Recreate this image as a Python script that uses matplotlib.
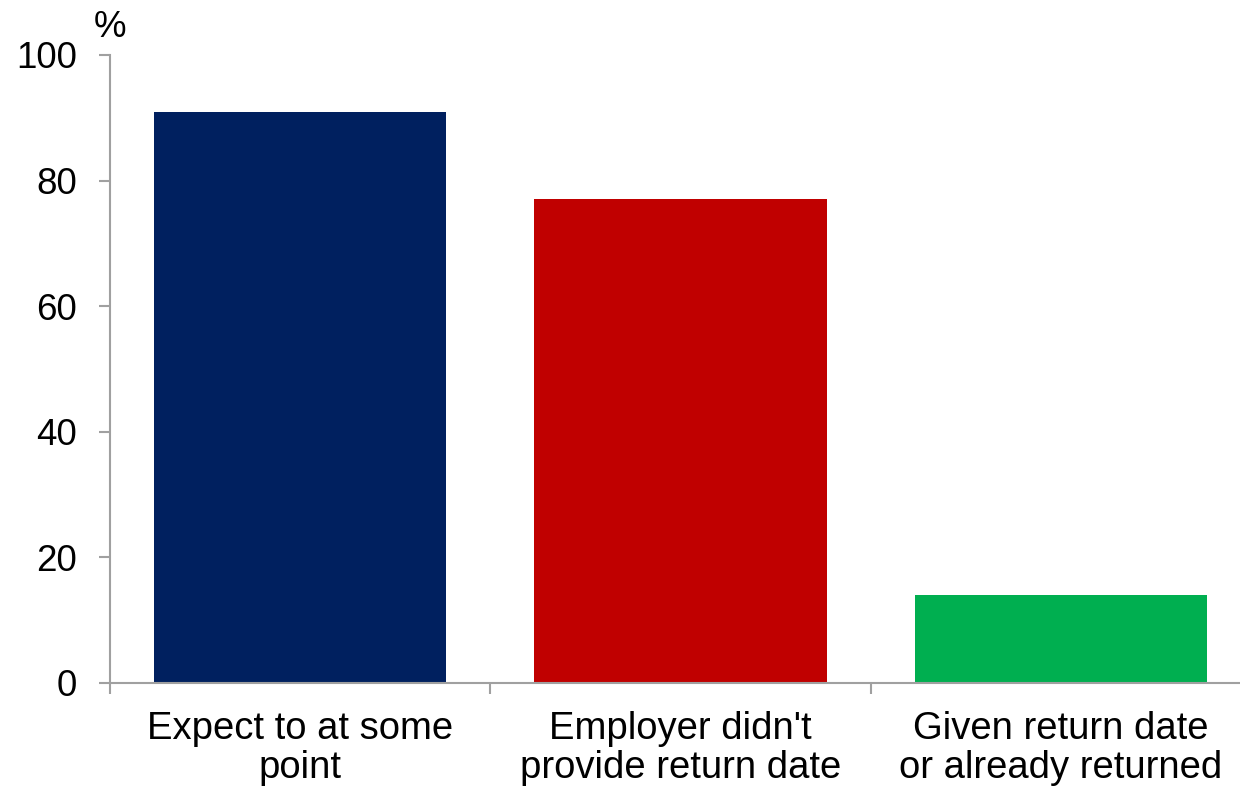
import matplotlib
matplotlib.use("Agg")
import matplotlib.pyplot as plt
import numpy as np

# Share of respondents, %
categories = ["Expect to at some\npoint",
              "Employer didn't\nprovide return date",
              "Given return date\nor already returned"]
values = [91, 77, 14]
bar_colors = ["#00205F", "#C00000", "#00AF50"]
yticks = [0, 20, 40, 60, 80, 100]

plt.rcParams["font.family"] = ["Liberation Sans", "DejaVu Sans"]

W, H = 1240, 792
fig = plt.figure(figsize=(W / 100, H / 100), dpi=100)
# axis runs off the right edge of the canvas
ax = fig.add_axes([110 / W, (H - 683) / H, 1141 / W, 628 / H])

x = np.arange(len(categories))
ax.bar(x, values, width=0.768, color=bar_colors, zorder=2)

ax.set_xlim(-0.5, len(categories) - 0.5)
ax.set_ylim(0, 100)
ax.set_yticks(yticks)
ax.set_yticklabels([str(t) for t in yticks])

# category boundary ticks instead of centre ticks
ax.set_xticks(np.arange(len(categories) + 1) - 0.5)
ax.set_xticklabels([])
ax.set_xticks(x, minor=True)
ax.set_xticklabels(categories, minor=True, linespacing=1.1)
ax.tick_params(axis="x", which="minor", length=0, pad=20, labelsize=27.5)
ax.tick_params(axis="x", which="major", length=8, width=1.5, color="#A0A0A0")
ax.tick_params(axis="y", length=8, width=1.5, color="#A0A0A0", pad=16, labelsize=26.5)

for side in ("top", "right"):
    ax.spines[side].set_visible(False)
for side in ("left", "bottom"):
    ax.spines[side].set_color("#A0A0A0")
    ax.spines[side].set_linewidth(1.5)

fig.text(110 / W, (H - 37) / H, "%", ha="center", va="baseline", fontsize=26.5)

fig.savefig("out.png", dpi=100)
